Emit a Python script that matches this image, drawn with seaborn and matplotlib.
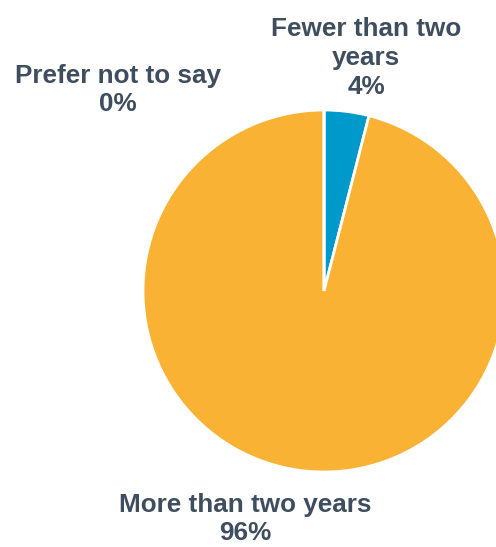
import matplotlib
matplotlib.use("Agg")
import matplotlib.pyplot as plt
import seaborn as sns

# === Data ===
categories = ["Fewer than two years", "More than two years", "Prefer not to say"]
shares = [4, 96, 0]
label_text = ["Fewer than two\nyears\n4%", "More than two years\n96%", "Prefer not to say\n0%"]
colors = ["#0099CC", "#F9B233", "#A5A5A5"]

sns.set_theme(style="white")
plt.rcParams["font.family"] = ["Liberation Sans", "DejaVu Sans"]

fig = plt.figure(figsize=(4.96, 5.47), dpi=100)
ax = fig.add_axes([143 / 496, 75 / 547, 362 / 496, 362 / 547])

wedges, _ = ax.pie(
    shares,
    colors=colors,
    startangle=90,
    counterclock=False,
    radius=1.0,
    wedgeprops=dict(edgecolor="white", linewidth=2),
)
for w in wedges:
    w.set_clip_on(False)
ax.set_xlim(-1, 1)
ax.set_ylim(-1, 1)
ax.set_aspect("equal")
ax.axis("off")

txt = dict(ha="center", va="center", fontsize=18.8, fontweight="bold",
           color="#3F4E5E", linespacing=1.25)
# label anchors in figure pixels (x, y from top)
anchors = [(366, 58), (245, 519), (118, 90)]
for (x, y), t in zip(anchors, label_text):
    fig.text(x / 496, 1 - y / 547, t, **txt)

fig.savefig("out.png", dpi=100)
